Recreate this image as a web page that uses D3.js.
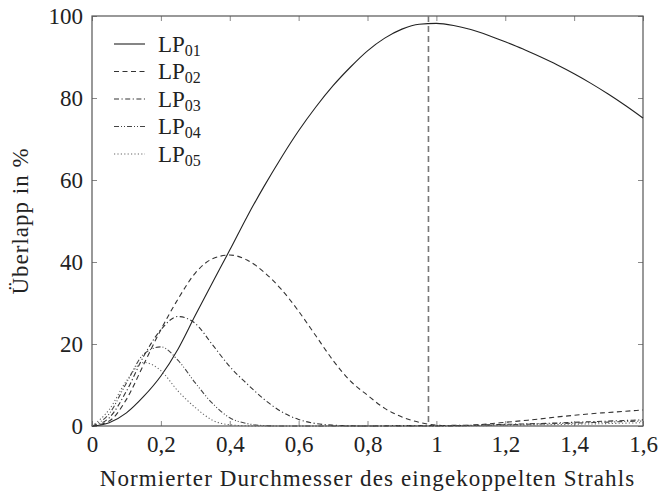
<!DOCTYPE html>
<html>
<head>
<meta charset="utf-8">
<script src="https://d3js.org/d3.v7.min.js"></script>
<style>
  body { margin: 0; background: #fff; }
</style>
</head>
<body>
<div id="chart"></div>
<script>
// sample points along the normalized beam diameter
var xVals = [0, 0.05, 0.1, 0.15, 0.2, 0.25, 0.3, 0.35, 0.4, 0.45, 0.5, 0.55, 0.6, 0.65, 0.7, 0.75, 0.8,
             0.85, 0.9, 0.95, 1.0, 1.05, 1.1, 1.15, 1.2, 1.25, 1.3, 1.35, 1.4, 1.45, 1.5, 1.55, 1.6];

var lp01 = [0, 0.8, 3.2, 7.2, 12.2, 18.8, 27.0, 35.0, 42.9, 51.0, 58.5, 65.5, 72.0, 77.8, 83.0, 87.5, 91.5,
            94.6, 96.8, 98.0, 98.2, 97.7, 96.7, 95.3, 93.7, 92.0, 90.1, 88.1, 85.9, 83.5, 80.9, 78.1, 75.1];
var lp02 = [0, 1.2, 6.5, 15.0, 23.5, 31.0, 37.3, 40.8, 41.7, 40.5, 37.5, 33.3, 28.0, 22.0, 16.0, 11.0, 7.5,
            4.3, 2.2, 0.9, 0.2, 0.05, 0.2, 0.5, 0.9, 1.3, 1.7, 2.2, 2.6, 3.0, 3.3, 3.6, 3.9];
var lp03 = [0, 2.0, 8.5, 17.0, 23.5, 26.7, 25.0, 19.8, 14.5, 10.3, 6.5, 3.5, 1.6, 0.6, 0.2, 0.05, 0,
            0.05, 0.1, 0.1, 0.1, 0.15, 0.2, 0.3, 0.4, 0.5, 0.6, 0.75, 0.9, 1.05, 1.2, 1.35, 1.5];
var lp04 = [0, 3.0, 10.5, 17.5, 19.3, 16.0, 10.5, 5.5, 2.0, 0.6, 0.1, 0, 0, 0, 0, 0, 0,
            0, 0, 0, 0, 0.05, 0.1, 0.2, 0.3, 0.4, 0.5, 0.6, 0.7, 0.85, 0.95, 1.1, 1.2];
var lp05 = [0, 4.0, 11.0, 15.5, 13.5, 8.5, 4.5, 1.4, 0.3, 0.05, 0, 0, 0, 0, 0, 0, 0,
            0, 0, 0, 0, 0, 0.05, 0.1, 0.15, 0.2, 0.3, 0.35, 0.45, 0.5, 0.6, 0.7, 0.8];

var seriesNames = ["01", "02", "03", "04", "05"];
var optimum = 0.977;   // position of the dashed marker line

var xTicks = [0, 0.2, 0.4, 0.6, 0.8, 1, 1.2, 1.4, 1.6];
var yTicks = [0, 20, 40, 60, 80, 100];

var serif = "'Liberation Serif', 'Times New Roman', serif";

var margin = {top: 16, right: 17, bottom: 68, left: 92},
    width  = 660 - margin.left - margin.right,
    height = 494 - margin.top  - margin.bottom;

var svg = d3.select("#chart")
            .append("svg")
            .attr("width", 660)
            .attr("height", 494)
            .append("g")
            .attr("transform", "translate(" + margin.left + "," + margin.top + ")");

var xScale = d3.scaleLinear().domain([0, 1.6]).range([0, width]);
var yScale = d3.scaleLinear().domain([0, 100]).range([height, 0]);

var fmt = function(d) { return String(d).replace(".", ","); };

// ticks pointing inward on all four sides
var tickLen = 5;
svg.append("g")
   .attr("class", "x axis")
   .attr("transform", "translate(0," + height + ")")
   .call(d3.axisBottom(xScale).tickValues(xTicks).tickFormat(fmt).tickSizeInner(-tickLen).tickSizeOuter(0).tickPadding(10));
svg.append("g")
   .call(d3.axisTop(xScale).tickValues(xTicks).tickFormat("").tickSizeInner(-tickLen).tickSizeOuter(0));
svg.append("g")
   .attr("class", "y axis")
   .call(d3.axisLeft(yScale).tickValues(yTicks).tickSizeInner(-tickLen).tickSizeOuter(0).tickPadding(9));
svg.append("g")
   .attr("transform", "translate(" + width + ",0)")
   .call(d3.axisRight(yScale).tickValues(yTicks).tickFormat("").tickSizeInner(-tickLen).tickSizeOuter(0));

svg.selectAll(".domain").remove();
svg.selectAll(".tick line").attr("stroke", "#888");
svg.selectAll(".axis").attr("font-family", serif).attr("font-size", 23);
svg.selectAll(".tick text").attr("fill", "#222");

// frame
svg.append("rect")
   .attr("x", 0).attr("y", 0)
   .attr("width", width).attr("height", height)
   .attr("fill", "none")
   .attr("stroke", "#555")
   .attr("stroke-width", 1.2);

// dashed marker line at the optimum
svg.append("line")
   .attr("x1", xScale(optimum)).attr("x2", xScale(optimum))
   .attr("y1", yScale(100)).attr("y2", yScale(0))
   .attr("stroke", "#777")
   .attr("stroke-width", 1.6)
   .attr("stroke-dasharray", "6,4");

var series = [lp01, lp02, lp03, lp04, lp05];
var dashes = ["none", "5,3.5", "5,2.5,1.2,2.5", "5,2,1,2,1,2", "1.2,2.2"];
var colors = ["#222", "#333", "#333", "#444", "#666"];

var line = d3.line()
             .x(function(d, i) { return xScale(xVals[i]); })
             .y(function(d) { return yScale(d); })
             .curve(d3.curveMonotoneX);

svg.selectAll(".curve")
   .data(series)
   .enter()
   .append("path")
   .attr("class", "curve")
   .attr("d", line)
   .attr("fill", "none")
   .attr("stroke", function(d, i) { return colors[i]; })
   .attr("stroke-width", 1.1)
   .attr("stroke-dasharray", function(d, i) { return dashes[i]; });

// legend
var legend = svg.append("g").attr("transform", "translate(22,28)");
seriesNames.forEach(function(name, i) {
  var row = legend.append("g").attr("transform", "translate(0," + (i * 27.5) + ")");
  row.append("line")
     .attr("x1", 0).attr("x2", 31)
     .attr("y1", 0).attr("y2", 0)
     .attr("stroke", colors[i])
     .attr("stroke-width", 1.1)
     .attr("stroke-dasharray", dashes[i]);
  var t = row.append("text")
     .attr("x", 44)
     .attr("y", 7.5)
     .attr("font-family", serif)
     .attr("font-size", 23)
     .attr("fill", "#222");
  t.append("tspan").text("LP");
  t.append("tspan").attr("font-size", 16).attr("dy", 4).text(name);
});

// axis labels
svg.append("text")
   .attr("x", width / 2)
   .attr("y", height + 60)
   .attr("text-anchor", "middle")
   .attr("font-family", serif)
   .attr("font-size", 23)
   .attr("letter-spacing", 1.1)
   .attr("fill", "#222")
   .text("Normierter Durchmesser des eingekoppelten Strahls");
svg.append("text")
   .attr("transform", "translate(" + (-64) + "," + (height / 2) + ")rotate(-90)")
   .attr("text-anchor", "middle")
   .attr("font-family", serif)
   .attr("font-size", 23)
   .attr("letter-spacing", 1)
   .attr("fill", "#222")
   .text("Überlapp in %");
</script>
</body>
</html>
